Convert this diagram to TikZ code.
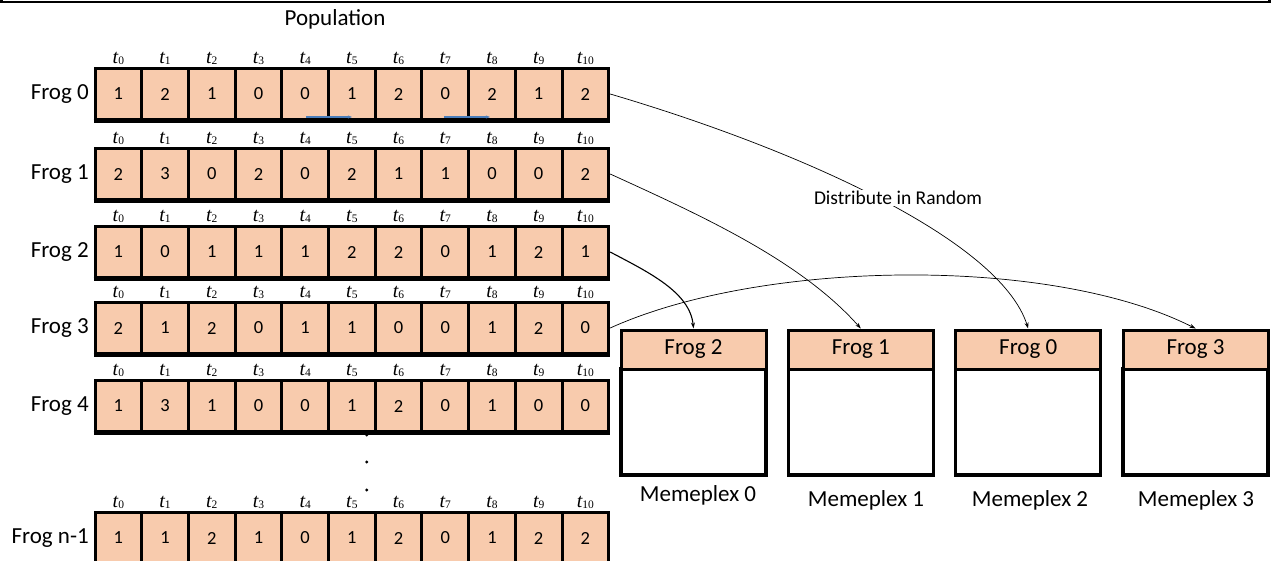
\documentclass[tikz,border=0pt]{standalone}
\usepackage{fontspec}
\setmainfont{Carlito}
\newfontfamily\tms{Liberation Serif}
\usetikzlibrary{arrows.meta}
\definecolor{peach}{HTML}{F8CBAD}
\definecolor{bluearr}{HTML}{4A7EBB}
\newcommand{\tlab}[1]{{\tms\fontsize{20}{20}\selectfont\itshape t}\raisebox{-1.8pt}{\tms\fontsize{11.5}{11.5}\selectfont #1}}
\begin{document}
\begin{tikzpicture}[x=1pt,y=-1pt,
  cell/.style={draw, line width=3pt, fill=peach, minimum width=46.7pt, minimum height=51pt, inner sep=0pt, font=\fontsize{18.5}{18.5}\selectfont},
  lab/.style={font=\fontsize{23}{23}\selectfont, inner sep=0pt},
  head/.style={draw, line width=3pt, fill=peach, minimum width=145pt, minimum height=39pt, inner sep=0pt, font=\fontsize{23}{23}\selectfont},
  body/.style={draw, line width=3.2pt, fill=white, minimum width=145pt, minimum height=106pt, inner sep=0pt},
  conn/.style={line width=0.7pt, -{Stealth[length=6pt,width=4pt]}},
  bluetip/.style={bluearr, line width=1.2pt, -{Stealth[length=4pt,width=3pt]}}]
\useasboundingbox (0,0) rectangle (1271,560);
\clip (0,0) rectangle (1271,560);
% top frame edge
\draw[line width=2.5pt] (1.5,-3) -- (1.5,2) -- (1269.5,2) -- (1269.5,-3);
\node[lab] (pop) at (335,19) {Population};
% rows
\foreach \r/\yc/\name/\vals in {
  0/94/{Frog 0}/{1,2,1,0,0,1,2,0,2,1,2},
  1/174/{Frog 1}/{2,3,0,2,0,2,1,1,0,0,2},
  2/252/{Frog 2}/{1,0,1,1,1,2,2,0,1,2,1},
  3/328/{Frog 3}/{2,1,2,0,1,1,0,0,1,2,0},
  4/406/{Frog 4}/{1,3,1,0,0,1,2,0,1,0,0},
  5/538/{Frog n-1}/{1,1,2,1,0,1,2,0,1,2,2}} {
  \node[lab, anchor=east] (f\r) at (89,\yc) {\name};
  \foreach \v [count=\i from 0] in \vals {
    \node[cell] (r\r-\i) at ({95+46.7*(\i+0.5)},\yc) {\v};
    \node[anchor=base, inner sep=0pt] (t\r-\i) at ({95+46.7*(\i+0.5)},\yc-31) {\tlab{\i}};
  }
  \draw[line width=4pt] ([yshift=0.5pt]r\r-0.south west) -- ([yshift=0.5pt]r\r-10.south east);
}
% blue marks in row 0
\coordinate (ba1) at (306,117); \coordinate (bb1) at (352,117);
\coordinate (ba2) at (444,117); \coordinate (bb2) at (490,117);
\draw[bluetip] (ba1) -- (bb1);
\draw[bluetip] (ba2) -- (bb2);
% dots
\fill (366.7,435) circle (1.6pt);
\fill (366.7,462) circle (1.6pt);
\fill (366.7,490) circle (1.6pt);
% memeplexes
\foreach \k/\fr/\lx/\mx/\ly in {0/2/693.5/698/495, 1/1/860.8/866/500, 2/0/1028.2/1030/500, 3/3/1195.5/1196/500} {
  \node[body] (b\k) at (\lx,422) {};
  \node[head] (h\k) at (\lx,349.5) {Frog \fr};
  \node[lab] (m\k) at (\mx,\ly) {Memeplex \k};
}
% connectors
\draw[conn] (r0-10.east) .. controls (800,150) and (1000,240) .. (h2.north);
\node[font=\fontsize{19.5}{19.5}\selectfont, fill=white, inner sep=1.5pt] (dist) at (898,198) {Distribute in Random};
\draw[conn] (r1-10.east) .. controls (700,215) and (800,260) .. (h1.north);
\draw[conn, line width=1.1pt] (r2-10.east) .. controls (648,272) and (690,292) .. (h0.north);
\draw[conn] (r3-10.east) .. controls (760,260) and (1050,255) .. (h3.north);
\end{tikzpicture}
\end{document}
